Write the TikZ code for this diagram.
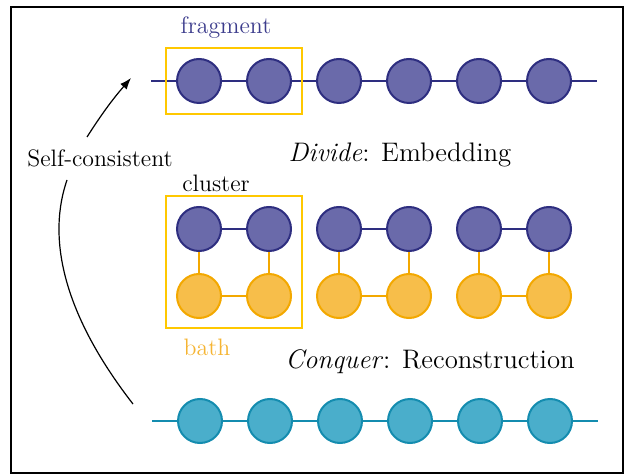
\documentclass[tikz,border=0pt]{standalone}
\usepackage{xcolor}
\usetikzlibrary{arrows.meta}
\definecolor{fragfill}{RGB}{106,106,170}
\definecolor{fragline}{RGB}{46,46,128}
\definecolor{bathfill}{RGB}{247,190,74}
\definecolor{bathline}{RGB}{243,168,0}
\definecolor{recfill}{RGB}{74,174,203}
\definecolor{recline}{RGB}{20,140,175}
\definecolor{boxgold}{RGB}{255,200,0}
\definecolor{fragtext}{RGB}{60,60,140}
\definecolor{bathtext}{RGB}{245,180,50}

\begin{document}
\begin{tikzpicture}[x=0.5pt, y=-0.5pt, font=\fontsize{11.9}{14}\selectfont,
    site/.style={circle, draw, line width=1pt, minimum size=22pt, inner sep=0pt},
    frag/.style={site, draw=fragline, fill=fragfill},
    bath/.style={site, draw=bathline, fill=bathfill},
    rec/.style={site, draw=recline, fill=recfill},
    bond/.style={line width=0.8pt},
    gold/.style={draw=boxgold, line width=1pt},
    title/.style={font=\fontsize{13.4}{16}\selectfont}]
    \useasboundingbox (0,0) rectangle (625,475);
    \draw [line width=1pt] (11,7) rectangle (623,473);
    % Divide: fragment chain
    \coordinate (fl) at (151,81);
    \coordinate (fr) at (597,81);
    \foreach \i in {1,...,6} \node [frag] (f\i) at (129+70*\i,81) {};
    \draw [bond, fragline] (fl) -- (f1);
    \foreach \i/\j in {1/2,2/3,3/4,4/5,5/6} \draw [bond, fragline] (f\i) -- (f\j);
    \draw [bond, fragline] (f6) -- (fr);
    \draw [gold] (166,48) rectangle (302,114);
    \node [fragtext] (fraglabel) at (226,28) {fragment};
    \node [title] (divide) at (400,155) {\textit{Divide}: Embedding};
    % clusters and baths
    \foreach \k in {0,1,2} {
        \node [frag] (ca\k) at (199+140*\k,229) {};
        \node [frag] (cb\k) at (269+140*\k,229) {};
        \node [bath] (ba\k) at (199+140*\k,296) {};
        \node [bath] (bb\k) at (269+140*\k,296) {};
        \draw [bond, fragline] (ca\k) -- (cb\k);
        \draw [bond, bathline] (ca\k) -- (ba\k);
        \draw [bond, bathline] (cb\k) -- (bb\k);
        \draw [bond, bathline] (ba\k) -- (bb\k);
    }
    \draw [gold] (166,196) rectangle (302,328);
    \node (clusterlabel) at (216,183) {cluster};
    \node [bathtext] (bathlabel) at (207,347) {bath};
    \node [title] (conquer) at (430,362) {\textit{Conquer}: Reconstruction};
    % Conquer: reconstructed chain
    \coordinate (rl) at (152,421);
    \coordinate (rr) at (598,421);
    \foreach \i in {1,...,6} \node [rec] (r\i) at (130+70*\i,421) {};
    \draw [bond, recline] (rl) -- (r1);
    \foreach \i/\j in {1/2,2/3,3/4,4/5,5/6} \draw [bond, recline] (r\i) -- (r\j);
    \draw [bond, recline] (r6) -- (rr);
    % self-consistency loop
    \node (selfc) at (100,158) {Self-consistent};
    \coordinate (loopend) at (133,404);
    \coordinate (loopmid) at (67,180);
    \coordinate (loopup) at (87,137);
    \coordinate (looptip) at (131,78);
    \draw [line width=0.6pt] (loopend) .. controls (60,310) and (48,235) .. (loopmid);
    \draw [line width=0.6pt, -{Latex}] (loopup) to [bend left=4] (looptip);
\end{tikzpicture}
\end{document}
